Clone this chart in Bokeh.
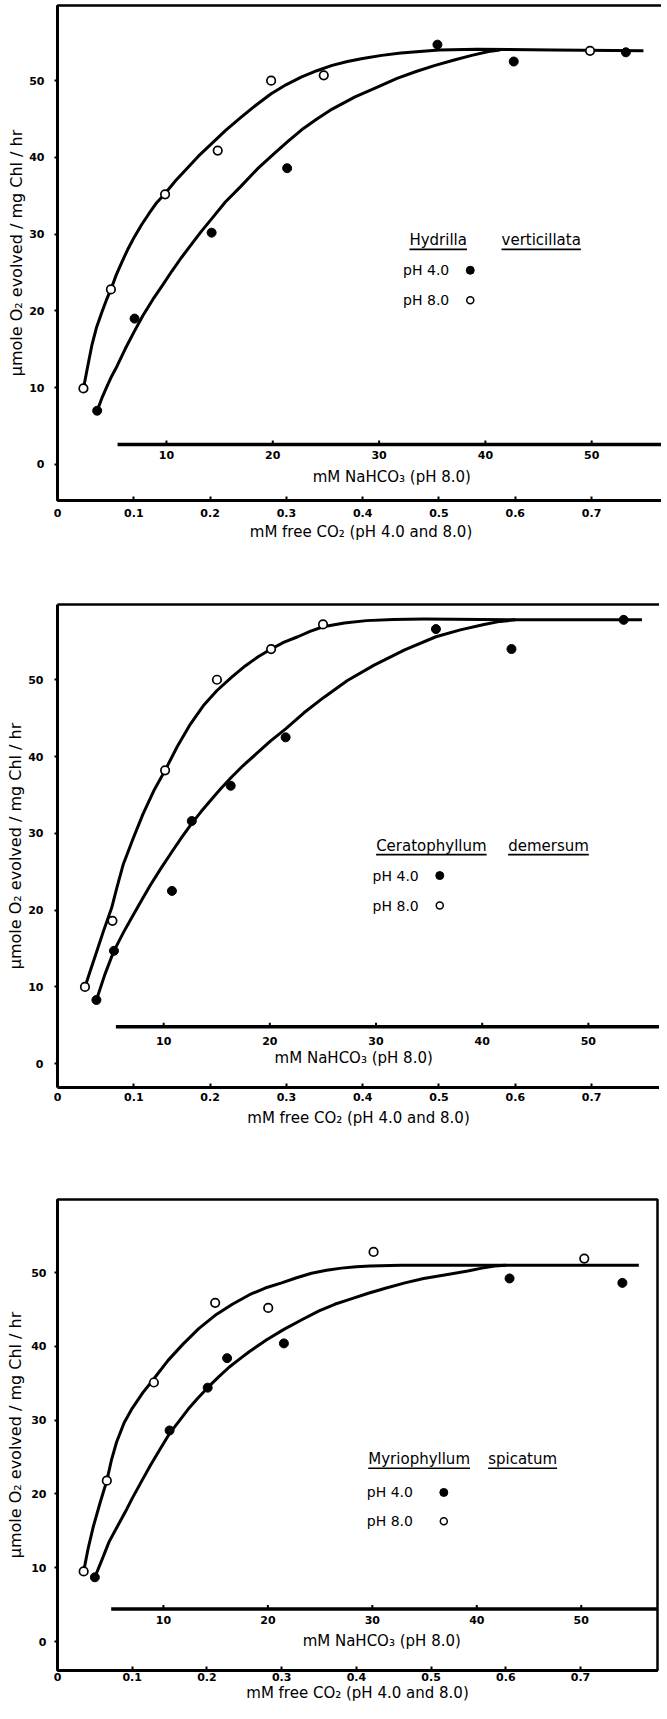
import math
from bokeh.plotting import figure
from bokeh.models import Range1d, LinearAxis, FixedTicker, CustomJSTickFormatter
from bokeh.layouts import column
from bokeh.embed import file_html
from bokeh.resources import INLINE
from bokeh.core.properties import value

FONT = "DejaVu Sans"

# ---------------- shared axis values / labels ----------------
co2_ticks = [0.0, 0.1, 0.2, 0.3, 0.4, 0.5, 0.6, 0.7]
o2_ticks = [0, 10, 20, 30, 40, 50]
nahco3_ticks = [10, 20, 30, 40, 50]
nahco3_labels = ["10", "20", "30", "40", "50"]
legend_labels = ["pH 4.0", "pH 8.0"]
x_title = "mM free CO\u2082 (pH 4.0 and 8.0)"
nahco3_title = "mM NaHCO\u2083 (pH 8.0)"
y_title = "\u03bcmole O\u2082 evolved / mg Chl / hr"

# ---------------- Panel 1: Hydrilla verticillata ----------------
hyd_species = ["Hydrilla", "verticillata"]
hyd_ph4_x = [0.052, 0.101, 0.202, 0.301, 0.498, 0.598, 0.745]
hyd_ph4_y = [7.0, 19.0, 30.2, 38.6, 54.7, 52.5, 53.7]
hyd_ph8_x = [0.034, 0.070, 0.141, 0.210, 0.280, 0.349, 0.698]
hyd_ph8_y = [9.9, 22.8, 35.2, 40.9, 50.0, 50.7, 53.9]
hyd_fit8_x = [0.034, 0.040, 0.045, 0.051, 0.058, 0.064, 0.070, 0.077, 0.085, 0.092, 0.100,
              0.110, 0.120, 0.130, 0.141, 0.155, 0.170, 0.185, 0.200, 0.220,
              0.240, 0.260, 0.280, 0.300, 0.320, 0.340, 0.360, 0.380, 0.400, 0.425,
              0.450, 0.475, 0.500, 0.550, 0.650, 0.768]
hyd_fit8_y = [9.9, 13.0, 15.5, 17.8, 19.8, 21.4, 22.8, 24.7, 26.5, 28.0, 29.5,
              31.2, 32.7, 34.1, 35.3, 37.0, 38.6, 40.2, 41.6, 43.5,
              45.2, 46.8, 48.3, 49.5, 50.5, 51.3, 52.0, 52.5, 52.9, 53.3,
              53.6, 53.8, 54.0, 54.1, 54.0, 53.9]
hyd_fit4_x = [0.052, 0.058, 0.065, 0.071, 0.078, 0.089, 0.100, 0.112, 0.125, 0.138, 0.150,
              0.162, 0.175, 0.188, 0.202, 0.220, 0.240, 0.262, 0.285, 0.302,
              0.320, 0.340, 0.360, 0.390, 0.420, 0.445, 0.470, 0.495, 0.520, 0.543,
              0.565, 0.580]
hyd_fit4_y = [7.0, 8.6, 10.2, 11.5, 12.8, 15.1, 17.2, 19.4, 21.5, 23.4, 25.2,
              26.9, 28.6, 30.3, 32.0, 34.2, 36.2, 38.5, 40.6, 42.1,
              43.6, 45.0, 46.3, 47.9, 49.2, 50.3, 51.2, 52.0, 52.7, 53.3,
              53.8, 54.0]

# ---------------- Panel 2: Ceratophyllum demersum ----------------
cer_species = ["Ceratophyllum", "demersum"]
cer_ph4_x = [0.051, 0.074, 0.150, 0.176, 0.227, 0.299, 0.496, 0.595, 0.742]
cer_ph4_y = [8.3, 14.7, 22.5, 31.6, 36.2, 42.5, 56.6, 54.0, 57.8]
cer_ph8_x = [0.036, 0.072, 0.141, 0.209, 0.280, 0.348]
cer_ph8_y = [10.0, 18.6, 38.2, 50.0, 54.0, 57.2]
cer_fit8_x = [0.036, 0.043, 0.050, 0.060, 0.071, 0.078, 0.086, 0.099, 0.112, 0.126, 0.141,
              0.157, 0.174, 0.191, 0.209, 0.228, 0.246, 0.263, 0.280, 0.297,
              0.315, 0.331, 0.348, 0.376, 0.405, 0.440, 0.480, 0.600, 0.766]
cer_fit8_y = [10.0, 12.1, 14.2, 17.2, 20.3, 23.0, 25.9, 29.3, 32.5, 35.5, 38.2,
              41.3, 44.2, 46.6, 48.6, 50.3, 51.8, 53.0, 54.0, 54.9,
              55.6, 56.3, 56.9, 57.4, 57.7, 57.85, 57.9, 57.8, 57.8]
cer_fit4_x = [0.051, 0.062, 0.074, 0.087, 0.100, 0.111, 0.122, 0.136, 0.150, 0.163, 0.176,
              0.188, 0.200, 0.213, 0.227, 0.243, 0.260, 0.279, 0.299, 0.323,
              0.349, 0.380, 0.415, 0.455, 0.496, 0.528, 0.559, 0.580, 0.600]
cer_fit4_y = [8.3, 11.6, 14.7, 17.2, 19.5, 21.4, 23.3, 25.5, 27.6, 29.5, 31.3,
              32.8, 34.2, 35.7, 37.2, 38.8, 40.3, 42.0, 43.6, 45.7,
              47.7, 49.9, 51.9, 53.9, 55.6, 56.5, 57.2, 57.6, 57.8]

# ---------------- Panel 3: Myriophyllum spicatum ----------------
myr_species = ["Myriophyllum", "spicatum"]
myr_ph4_x = [0.050, 0.150, 0.201, 0.227, 0.303, 0.605, 0.756]
myr_ph4_y = [8.7, 28.6, 34.4, 38.4, 40.4, 49.2, 48.6]
myr_ph8_x = [0.035, 0.066, 0.129, 0.211, 0.282, 0.423, 0.705]
myr_ph8_y = [9.5, 21.8, 35.1, 45.9, 45.2, 52.8, 51.9]
myr_fit8_x = [0.035, 0.041, 0.048, 0.057, 0.066, 0.072, 0.079, 0.089, 0.100, 0.114, 0.129,
              0.148, 0.168, 0.189, 0.211, 0.234, 0.257, 0.278, 0.300, 0.320,
              0.340, 0.360, 0.380, 0.400, 0.418, 0.460, 0.500, 0.778]
myr_fit8_y = [9.5, 12.6, 15.6, 18.8, 21.8, 24.5, 27.0, 29.6, 31.6, 33.7, 35.6,
              38.1, 40.3, 42.4, 44.2, 45.7, 47.0, 47.9, 48.6, 49.3,
              49.9, 50.3, 50.6, 50.8, 50.9, 51.0, 51.0, 51.0]
myr_fit4_x = [0.050, 0.060, 0.069, 0.077, 0.085, 0.093, 0.100, 0.113, 0.125, 0.138, 0.150,
              0.163, 0.175, 0.188, 0.201, 0.216, 0.230, 0.244, 0.257, 0.280,
              0.303, 0.327, 0.350, 0.371, 0.392, 0.416, 0.440, 0.465, 0.490, 0.520,
              0.549, 0.568, 0.585, 0.600]
myr_fit4_y = [8.7, 11.2, 13.5, 15.0, 16.5, 18.0, 19.4, 21.8, 24.0, 26.2, 28.2,
              29.9, 31.5, 33.0, 34.4, 35.9, 37.2, 38.3, 39.3, 40.9,
              42.3, 43.6, 44.8, 45.7, 46.4, 47.2, 47.9, 48.6, 49.2, 49.7,
              50.2, 50.6, 50.9, 51.0]

# ---------------- layout (positions / sizes only) ----------------
panels = [
    dict(species=hyd_species, p4=(hyd_ph4_x, hyd_ph4_y), p8=(hyd_ph8_x, hyd_ph8_y),
         f4=(hyd_fit4_x, hyd_fit4_y), f8=(hyd_fit8_x, hyd_fit8_y),
         fw=607, fh=495, bl=51, br=1, bt=5, bb=70,
         xr=(0.0, 0.7956), yr=(-4.7, 59.8), nar=(-0.25, 56.85),
         xst=8, xals=3, yst=10, yals=0, right_border=True,
         na_y=2.6, na_start=5.4, na_lab_off=11, na_title_off=33, na_title_x=31.2,
         leg_w=(0.499, 0.634), leg_hy=29.2, leg_px=0.453, leg_py=(25.3, 21.4), leg_mx=0.541),
    dict(species=cer_species, p4=(cer_ph4_x, cer_ph4_y), p8=(cer_ph8_x, cer_ph8_y),
         f4=(cer_fit4_x, cer_fit4_y), f8=(cer_fit8_x, cer_fit8_y),
         fw=602, fh=483, bl=57, br=0, bt=34, bb=63,
         xr=(0.0, 0.789), yr=(-3.1, 59.8), nar=(0.0, 56.7),
         xst=5, xals=5, yst=11, yals=0, right_border=False,
         na_y=4.8, na_start=5.5, na_lab_off=14, na_title_off=31, na_title_x=27.9,
         leg_w=(0.490, 0.6435), leg_hy=28.4, leg_px=0.413, leg_py=(24.5, 20.6), leg_mx=0.501),
    dict(species=myr_species, p4=(myr_ph4_x, myr_ph4_y), p8=(myr_ph8_x, myr_ph8_y),
         f4=(myr_fit4_x, myr_fit4_y), f8=(myr_fit8_x, myr_fit8_y),
         fw=600, fh=471, bl=53, br=6, bt=49, bb=33,
         xr=(0.0, 0.803), yr=(-3.93, 59.9), nar=(-0.14, 57.3),
         xst=2, xals=0, yst=8, yals=3, right_border=True,
         na_y=4.4, na_start=5.0, na_lab_off=11, na_title_off=32, na_title_x=30.9,
         leg_w=(0.484, 0.6225), leg_hy=24.7, leg_px=0.414, leg_py=(20.2, 16.3), leg_mx=0.517),
]

# approximate DejaVu Sans advance widths (em) for underline length
ADV = {'a': .613, 'c': .550, 'd': .635, 'e': .615, 'h': .634, 'i': .278, 'l': .278,
       'm': .974, 'n': .634, 'o': .612, 'p': .635, 'r': .411, 's': .521, 't': .392,
       'u': .634, 'v': .592, 'y': .592, 'C': .698, 'H': .752, 'M': .863}


def text_width(s, px):
    return sum(ADV.get(ch, 0.6) for ch in s) * px


def style_ticks(ax, size="11px"):
    ax.major_label_text_font = FONT
    ax.major_label_text_font_size = size
    ax.major_label_text_font_style = "bold"
    ax.major_label_text_color = "black"
    ax.minor_tick_line_color = None
    ax.major_tick_line_width = 2
    ax.axis_line_width = 3
    ax.axis_line_color = "black"
    ax.major_tick_line_color = "black"


def make_panel(d):
    p = figure(frame_width=d["fw"], frame_height=d["fh"],
               min_border_left=d["bl"], min_border_right=d["br"],
               min_border_top=d["bt"], min_border_bottom=d["bb"],
               x_range=Range1d(*d["xr"]), y_range=Range1d(*d["yr"]),
               output_backend="svg", toolbar_location=None,
               background_fill_color="white", border_fill_color="white")
    p.extra_x_ranges = {"na": Range1d(*d["nar"])}
    p.grid.visible = False

    xa = p.below[0]
    ya = p.left[0]

    if d["right_border"]:
        p.outline_line_color = "black"
        p.outline_line_width = 2.5
        p.outline_line_alpha = 1.0
    else:
        p.outline_line_color = None
        top = LinearAxis(ticker=FixedTicker(ticks=[]), axis_line_width=2.5,
                         axis_line_color="black",
                         major_tick_line_color=None, minor_tick_line_color=None,
                         major_label_text_font_size="0px")
        p.add_layout(top, "above")

    xa.ticker = FixedTicker(ticks=co2_ticks)
    xa.formatter = CustomJSTickFormatter(code="return tick == 0 ? '0' : tick.toFixed(1);")
    style_ticks(xa)
    xa.major_tick_in = 4
    xa.major_tick_out = 0
    xa.major_label_standoff = d["xst"]
    xa.axis_label = x_title
    xa.axis_label_text_font = FONT
    xa.axis_label_text_font_size = "15px"
    xa.axis_label_text_font_style = "normal"
    xa.axis_label_text_color = "black"
    xa.axis_label_standoff = d["xals"]

    ya.ticker = FixedTicker(ticks=o2_ticks)
    style_ticks(ya)
    ya.major_tick_in = 0
    ya.major_tick_out = 3
    ya.major_label_standoff = d["yst"]
    ya.axis_label = y_title
    ya.axis_label_text_font = FONT
    ya.axis_label_text_font_size = "16px"
    ya.axis_label_text_font_style = "normal"
    ya.axis_label_text_color = "black"
    ya.axis_label_standoff = d["yals"]

    pxy = d["fh"] / (d["yr"][1] - d["yr"][0])          # px per y unit
    xpp = (d["xr"][1] - d["xr"][0]) / d["fw"]          # x units per px

    # in-plot NaHCO3 axis
    na_y = d["na_y"]
    p.segment(x0=[d["na_start"]], y0=[na_y], x1=[d["nar"][1]], y1=[na_y],
              line_width=3.5, line_color="black", x_range_name="na")
    p.segment(x0=nahco3_ticks, y0=[na_y] * len(nahco3_ticks), x1=nahco3_ticks,
              y1=[na_y + 4.0 / pxy] * len(nahco3_ticks), line_width=2,
              line_color="black", x_range_name="na")
    p.text(x=nahco3_ticks, y=[na_y] * len(nahco3_ticks), text=nahco3_labels,
           y_offset=d["na_lab_off"], text_align="center", text_baseline="middle",
           text_font=value(FONT), text_font_size="11px", text_font_style="bold",
           text_color="black", x_range_name="na")
    p.text(x=[d["na_title_x"]], y=[na_y], text=[nahco3_title], y_offset=d["na_title_off"],
           text_align="center", text_baseline="middle", text_font=value(FONT),
           text_font_size="15px", text_color="black", x_range_name="na")

    # fitted curves
    p.line(d["f8"][0], d["f8"][1], line_width=3, line_color="black", line_join="round")
    p.line(d["f4"][0], d["f4"][1], line_width=3, line_color="black", line_join="round")

    # data points
    p.scatter(d["p4"][0], d["p4"][1], size=9, marker="circle", fill_color="black",
              line_color="black", line_width=1)
    p.scatter(d["p8"][0], d["p8"][1], size=8.5, marker="circle", fill_color="white",
              line_color="black", line_width=1.7)

    # legend (species name, underlined words)
    hy = d["leg_hy"]
    p.text(x=list(d["leg_w"]), y=[hy, hy], text=d["species"], text_align="center",
           text_baseline="middle", text_font=value(FONT), text_font_size="15px",
           text_color="black")
    ul_y = hy - 9.0 / pxy
    half = [0.5 * text_width(s, 15) * xpp for s in d["species"]]
    x0s = [c - h for c, h in zip(d["leg_w"], half)]
    x1s = [c + h for c, h in zip(d["leg_w"], half)]
    p.segment(x0=x0s, y0=[ul_y, ul_y], x1=x1s, y1=[ul_y, ul_y], line_width=1.6,
              line_color="black")
    p.text(x=[d["leg_px"], d["leg_px"]], y=list(d["leg_py"]), text=legend_labels,
           text_align="left", text_baseline="middle", text_font=value(FONT),
           text_font_size="14px", text_color="black")
    p.scatter([d["leg_mx"]], [d["leg_py"][0]], size=8, marker="circle",
              fill_color="black", line_color="black")
    p.scatter([d["leg_mx"]], [d["leg_py"][1]], size=7, marker="circle",
              fill_color="white", line_color="black", line_width=1.5)
    return p


figs = [make_panel(d) for d in panels]
layout = column(*figs, spacing=0)

with open("out.html", "w") as f:
    f.write(file_html(layout, INLINE))
